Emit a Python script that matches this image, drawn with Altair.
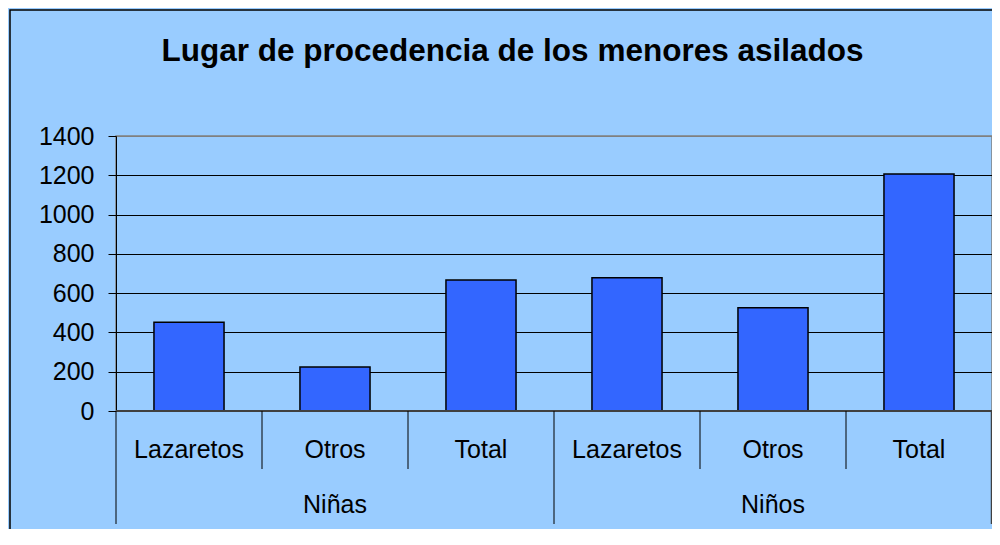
import altair as alt
import pandas as pd

title_text = "Lugar de procedencia de los menores asilados"
groups = ["Niñas", "Niñas", "Niñas", "Niños", "Niños", "Niños"]
categories = ["Lazaretos", "Otros", "Total", "Lazaretos", "Otros", "Total"]
values = [452, 224, 667, 679, 526, 1207]
y_ticks = [0, 200, 400, 600, 800, 1000, 1200, 1400]

W, H = 876, 275
FONT = "Liberation Sans"

keys = [f"{g}|{c}" for g, c in zip(groups, categories)]
df = pd.DataFrame({
    "key": keys,
    "group": groups,
    "category": categories,
    "value": values,
    "first": [i % 3 == 0 for i in range(len(keys))],
})
group_df = pd.DataFrame({
    "key": [keys[1], keys[4]],
    "group": [groups[1], groups[4]],
})
one = pd.DataFrame({"t": [title_text]})

xscale = alt.Scale(domain=keys, paddingInner=0, paddingOuter=0)
yscale = alt.Scale(domain=[0, 1400], nice=False, zero=True)
yaxis = alt.Axis(
    values=y_ticks, format="d", labelOverlap=False, labelBound=False,
    title=None, labelFont=FONT, labelFontSize=25,
    labelColor="black", tickSize=8, tickColor="black", labelPadding=14,
    domainColor="black", domainWidth=1,
    grid=True,
    gridColor=alt.condition("datum.value === 1400", alt.value("#808080"), alt.value("black")),
    gridWidth=1, gridOpacity=1,
)

frame = alt.Chart(one).mark_rect(fill=None, stroke="black", strokeWidth=1.5).encode(
    x=alt.value(-106), x2=alt.value(W + 60),
    y=alt.value(-126), y2=alt.value(H + 300),
)

bars = alt.Chart(df).mark_bar(
    fill="#3366FF", stroke="black", strokeWidth=1.5,
    width=alt.RelativeBandSize(0.48),
).encode(
    x=alt.X("key:N", scale=xscale, axis=None, sort=keys),
    y=alt.Y("value:Q", scale=yscale, axis=yaxis),
)

baseline = alt.Chart(one).mark_rule(color="#404040", strokeWidth=2).encode(
    y=alt.datum(0, type="quantitative", scale=yscale, axis=yaxis),
)

seps_short = alt.Chart(df).transform_filter("!datum.first").mark_rule(
    color="black", strokeWidth=1
).encode(
    x=alt.X("key:N", scale=xscale, axis=None, sort=keys, bandPosition=0),
    y=alt.value(H), y2=alt.value(H + 58),
)
seps_long = alt.Chart(df).transform_filter("datum.first").mark_rule(
    color="black", strokeWidth=1
).encode(
    x=alt.X("key:N", scale=xscale, axis=None, sort=keys, bandPosition=0),
    y=alt.value(H), y2=alt.value(H + 113),
)
sep_end = alt.Chart(one).mark_rule(color="#404040", strokeWidth=1.5).encode(
    x=alt.value(W - 0.5), y=alt.value(H), y2=alt.value(H + 113),
)

cat_labels = alt.Chart(df).mark_text(
    font=FONT, fontSize=25, color="black", baseline="alphabetic", align="center"
).encode(
    x=alt.X("key:N", scale=xscale, axis=None, sort=keys),
    y=alt.value(H + 47),
    text="category:N",
)
group_labels = alt.Chart(group_df).mark_text(
    font=FONT, fontSize=25, color="black", baseline="alphabetic", align="center"
).encode(
    x=alt.X("key:N", scale=xscale, axis=None, sort=keys),
    y=alt.value(H + 102),
    text="group:N",
)

title = alt.Chart(one).mark_text(
    font=FONT, fontSize=31.5, fontWeight="bold", color="black",
    baseline="alphabetic", align="center"
).encode(
    x=alt.value(396.5), y=alt.value(-75), text="t:N",
)

chart = alt.layer(
    frame, bars, baseline, seps_short, seps_long, sep_end,
    cat_labels, group_labels, title,
).properties(
    width=W, height=H,
    background="#99CCFF",
    padding={"left": 108, "top": 128, "right": 0, "bottom": 118},
    autosize=alt.AutoSizeParams(type="none"),
).configure_view(
    stroke="#808080", strokeWidth=1.5, fill=None,
)

chart.save("out.html", embed_options={"renderer": "svg", "actions": False})
